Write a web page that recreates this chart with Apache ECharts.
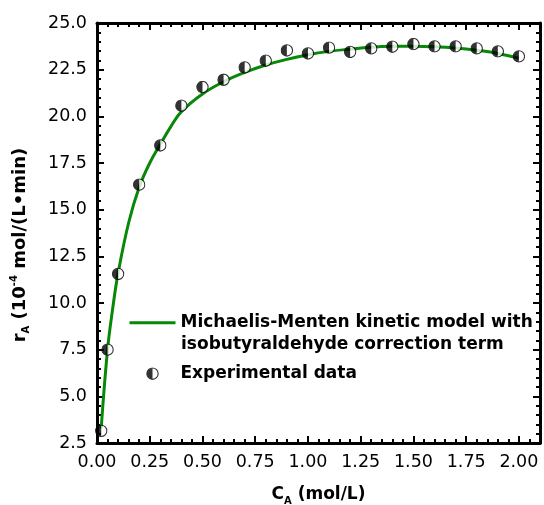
<!DOCTYPE html>
<html><head><meta charset="utf-8">
<script src="https://cdn.jsdelivr.net/npm/echarts@6/dist/echarts.min.js"></script>
<style>html,body{margin:0;padding:0;background:#fff}#c{width:544px;height:505px}</style>
</head><body><div id="c"></div>
<script>
// Model curve
const modelX = [0.02, 0.05, 0.075, 0.1, 0.15, 0.2, 0.25, 0.3, 0.35, 0.4, 0.5, 0.6, 0.7, 0.8, 0.9, 1.0, 1.1, 1.2, 1.3, 1.4, 1.5, 1.6, 1.7, 1.8, 1.9, 2.0];
const modelY = [3.3, 7.5, 9.75, 11.6, 14.3, 16.2, 17.5, 18.5, 19.45, 20.25, 21.2, 21.85, 22.35, 22.75, 23.05, 23.3, 23.48, 23.6, 23.7, 23.75, 23.76, 23.73, 23.66, 23.54, 23.37, 23.12];
// Experimental data
const expX = [0.02, 0.05, 0.1, 0.2, 0.3, 0.4, 0.5, 0.6, 0.7, 0.8, 0.9, 1.0, 1.1, 1.2, 1.3, 1.4, 1.5, 1.6, 1.7, 1.8, 1.9, 2.0];
const expY = [3.15, 7.5, 11.56, 16.34, 18.44, 20.57, 21.57, 21.96, 22.62, 22.98, 23.53, 23.37, 23.68, 23.45, 23.64, 23.73, 23.87, 23.75, 23.75, 23.64, 23.48, 23.21];
// Tick labels
const xTickLabels = ['0.00', '0.25', '0.50', '0.75', '1.00', '1.25', '1.50', '1.75', '2.00'];
const yTickLabels = ['2.5', '5.0', '7.5', '10.0', '12.5', '15.0', '17.5', '20.0', '22.5', '25.0'];
const legendLines = ['Michaelis-Menten kinetic model with', 'isobutyraldehyde correction term'];
const lineName = legendLines.join(' ');
const pointName = 'Experimental data';

const FONT = 'DejaVu Sans';
const GREEN = '#088808';
const markerSvg = "<svg xmlns='http://www.w3.org/2000/svg' width='26' height='26' viewBox='0 0 26 26'><circle cx='13' cy='13' r='11.3' fill='#fff' stroke='#000' stroke-width='2.2'/><path d='M13 1.7 A11.3 11.3 0 0 0 13 24.3 Z' fill='#000'/></svg>";
const markerImg = 'image://data:image/svg+xml;charset=utf-8,' + encodeURIComponent(markerSvg);

function titleRich(size) {
  return {
    b: {fontFamily: FONT, fontWeight: 'bold', fontSize: size, color: '#000', lineHeight: 22},
    sub: {fontFamily: FONT, fontWeight: 'bold', fontSize: 10, color: '#000', lineHeight: 10, verticalAlign: 'bottom'},
    sup: {fontFamily: FONT, fontWeight: 'bold', fontSize: 10, color: '#000', lineHeight: 10, verticalAlign: 'top'}
  };
}

function xAx(pos, major, extra) {
  return Object.assign({
    type: 'value', position: pos, min: 0, max: 2.1, interval: major ? 0.25 : 0.05,
    axisLine: {show: major, onZero: false, lineStyle: {color: '#000', width: 3}},
    axisTick: {show: true, inside: true, length: major ? 7 : 4, lineStyle: {color: '#000', width: 2}},
    axisLabel: {show: false},
    splitLine: {show: false}
  }, extra || {});
}
function yAx(pos, extra) {
  return Object.assign({
    type: 'value', position: pos, min: 2.5, max: 25, interval: 2.5,
    axisLine: {show: true, onZero: false, lineStyle: {color: '#000', width: 3}},
    axisTick: {show: true, inside: true, length: 7, lineStyle: {color: '#000', width: 2}},
    minorTick: {show: true, splitNumber: 5, length: 4, lineStyle: {color: '#000', width: 2}},
    axisLabel: {show: false},
    splitLine: {show: false}
  }, extra || {});
}

const chart = echarts.init(document.getElementById('c'), null, {renderer: 'canvas'});
chart.setOption({
  animation: false,
  backgroundColor: '#fff',
  grid: {left: 97, right: 4, top: 23, bottom: 62, containLabel: false, outerBoundsMode: 'none'},
  xAxis: [
    xAx('bottom', true, {
      axisLabel: {show: true, margin: 10, fontFamily: FONT, fontSize: 17.5, color: '#000',
        formatter: v => { const s = v.toFixed(2); return xTickLabels.indexOf(s) >= 0 && Math.abs(v * 4 - Math.round(v * 4)) < 1e-6 ? s : ''; }},
      name: '{b|C}{sub|A}{b| (mol/L)}', nameLocation: 'middle', nameGap: 41,
      nameTextStyle: {rich: titleRich(17)}
    }),
    xAx('bottom', false),
    xAx('top', true),
    xAx('top', false)
  ],
  yAxis: [
    yAx('left', {
      axisLabel: {show: true, margin: 10, fontFamily: FONT, fontSize: 17.5, color: '#000',
        formatter: v => { const s = v.toFixed(1); return yTickLabels.indexOf(s) >= 0 ? s : ''; }},
      name: '{b|r}{sub|A}{b| (10}{sup|-4}{b| mol/(L•min)}', nameLocation: 'middle', nameGap: 66,
      nameTextStyle: {rich: titleRich(18), padding: [0, 24, 0, 0]}
    }),
    yAx('right')
  ],
  legend: {
    orient: 'vertical', left: 128, top: 312.7, padding: 0,
    itemWidth: 46, itemHeight: 13, itemGap: 31,
    textStyle: {fontFamily: FONT, fontWeight: 'bold', fontSize: 17, color: '#000', lineHeight: 20},
    formatter: n => n === lineName ? legendLines[0] : n,
    data: [
      {name: lineName, itemStyle: {color: 'rgba(0,0,0,0)', borderColor: 'rgba(0,0,0,0)', borderWidth: 0, opacity: 0},
        lineStyle: {color: GREEN, width: 3, opacity: 1}},
      pointName
    ]
  },
  graphic: [{
    type: 'text', left: 181, top: 336,
    style: {text: legendLines[1], font: 'bold 17px "DejaVu Sans"', fill: '#000'}
  }],
  series: [
    {
      name: lineName, type: 'line', xAxisIndex: 0, yAxisIndex: 0,
      data: modelX.map((x, i) => [x, modelY[i]]),
      smooth: 0.4, symbol: 'none',
      lineStyle: {color: GREEN, width: 3}, itemStyle: {color: 'rgba(0,0,0,0)'}, z: 2
    },
    {
      name: pointName, type: 'scatter', xAxisIndex: 0, yAxisIndex: 0,
      data: expX.map((x, i) => [x, expY[i]]),
      symbol: markerImg, symbolSize: 13, z: 3
    }
  ]
});
</script></body></html>
